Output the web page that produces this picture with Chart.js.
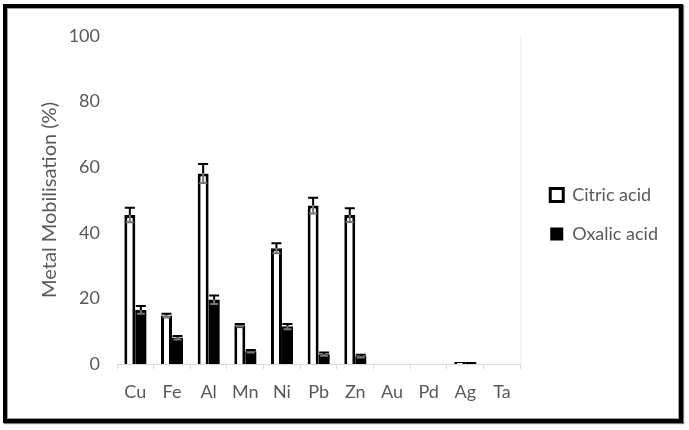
<!DOCTYPE html>
<html>
<head>
<meta charset="utf-8">
<script src="https://cdn.jsdelivr.net/npm/chart.js@4.4.1/dist/chart.umd.min.js"></script>
<style>
  html, body { margin: 0; padding: 0; background: #fff; }
  #wrap { position: relative; width: 689px; height: 430px; }
  #myBarChart { position: absolute; left: 0; top: 0; }
  #frame {
    position: absolute; left: 3px; top: 4px; width: 672px; height: 411px;
    border: 4px solid #000;
    box-shadow: inset 0 0 0 1px #a0a0a0, 1px 1px 1px #777;
    pointer-events: none;
  }
</style>
</head>
<body>
<div id="wrap">
  <canvas id="myBarChart" width="689" height="430"></canvas>
  <div id="frame"></div>
</div>
<script>
// metals on the x axis
var metals = ['Cu', 'Fe', 'Al', 'Mn', 'Ni', 'Pb', 'Zn', 'Au', 'Pd', 'Ag', 'Ta'];

// mobilisation (%)
var citric = [45.4, 14.8, 58.1, 11.8, 35.3, 48.3, 45.4, 0, 0, 0.6, 0];
var oxalic = [16.5, 8.0, 19.6, 3.9, 11.4, 3.0, 2.4, 0, 0, 0.6, 0];

// error bar half-widths
var citricErr = [2.2, 0.5, 2.9, 0.4, 1.5, 2.4, 2.1, 0, 0, 0, 0];
var oxalicErr = [1.2, 0.5, 1.3, 0.4, 0.8, 0.5, 0.4, 0, 0, 0, 0];

var yTicks = [0, 20, 40, 60, 80, 100];

var grey = '#595959';
Chart.defaults.font.family = 'Lato, "Open Sans", sans-serif';
Chart.defaults.color = grey;

// draws the error bars from the y scale
var errorBars = {
  id: 'errorBars',
  afterDatasetsDraw: function(chart) {
    var ctx = chart.ctx;
    var yScale = chart.scales.y;
    chart.data.datasets.forEach(function(ds, di) {
      var meta = chart.getDatasetMeta(di);
      meta.data.forEach(function(bar, i) {
        var e = ds.errors[i];
        if (!e) return;
        var v = ds.data[i];
        var yTop = yScale.getPixelForValue(v + e);
        var yMid = yScale.getPixelForValue(v);
        var yLow = yScale.getPixelForValue(v - e);
        ctx.save();
        ctx.lineWidth = 2;
        ctx.strokeStyle = '#000';
        ctx.beginPath();
        ctx.moveTo(bar.x, yMid);
        ctx.lineTo(bar.x, yTop);
        ctx.moveTo(bar.x - 5, yTop);
        ctx.lineTo(bar.x + 5, yTop);
        ctx.stroke();
        ctx.strokeStyle = '#777';
        ctx.beginPath();
        ctx.moveTo(bar.x, yMid);
        ctx.lineTo(bar.x, yLow);
        ctx.moveTo(bar.x - 4, yLow);
        ctx.lineTo(bar.x + 4, yLow);
        ctx.stroke();
        ctx.restore();
      });
    });
  }
};

// nudge the legend a little right and up
var legendShift = {
  id: 'legendShift',
  afterLayout: function(chart) {
    chart.legend.left += 9;
    chart.legend.right += 9;
    chart.legend.top -= 8;
    chart.legend.bottom -= 8;
  }
};

// faint plot-area edge on the right
var plotEdge = {
  id: 'plotEdge',
  beforeDatasetsDraw: function(chart) {
    var a = chart.chartArea;
    var ctx = chart.ctx;
    ctx.save();
    ctx.strokeStyle = '#ececec';
    ctx.lineWidth = 1;
    ctx.beginPath();
    ctx.moveTo(a.right + 0.5, a.top);
    ctx.lineTo(a.right + 0.5, a.bottom);
    ctx.stroke();
    ctx.restore();
  }
};

var ctx = document.getElementById('myBarChart').getContext('2d');
var chart = new Chart(ctx, {
  type: 'bar',
  data: {
    labels: metals,
    datasets: [{
      label: 'Citric acid',
      data: citric,
      errors: citricErr,
      backgroundColor: '#ffffff',
      borderColor: '#000000',
      borderWidth: 3
    }, {
      label: 'Oxalic acid',
      data: oxalic,
      errors: oxalicErr,
      backgroundColor: '#000000',
      borderColor: '#000000',
      borderWidth: 0
    }]
  },
  options: {
    responsive: false,
    animation: false,
    layout: { padding: { left: 38, top: 36, right: 30, bottom: 21 } },
    datasets: {
      bar: { categoryPercentage: 0.6, barPercentage: 1.0 }
    },
    plugins: {
      tooltip: { enabled: false },
      legend: {
        position: 'right',
        labels: {
          boxWidth: 13,
          boxHeight: 13,
          padding: 21,
          color: grey,
          font: { size: 18 }
        }
      }
    },
    scales: {
      x: {
        afterFit: function(scale) { scale.height = 45; },
        grid: {
          display: true,
          drawOnChartArea: false,
          drawTicks: true,
          tickLength: 5,
          color: '#d9d9d9',
          offset: true
        },
        border: { color: '#d9d9d9', width: 1 },
        ticks: { color: grey, font: { size: 18 }, padding: 12 }
      },
      y: {
        min: 0,
        max: 100,
        afterFit: function(scale) { scale.width = 79; },
        afterBuildTicks: function(scale) {
          scale.ticks = yTicks.map(function(v) { return { value: v }; });
        },
        grid: { display: false, drawTicks: false },
        border: { display: false },
        ticks: { color: grey, font: { size: 18 }, padding: 17 },
        title: {
          display: true,
          text: 'Metal Mobilisation (%)',
          color: grey,
          font: { size: 20 },
          padding: { top: 0, bottom: 0 }
        }
      }
    }
  },
  plugins: [errorBars, legendShift, plotEdge]
});
</script>
</body>
</html>
